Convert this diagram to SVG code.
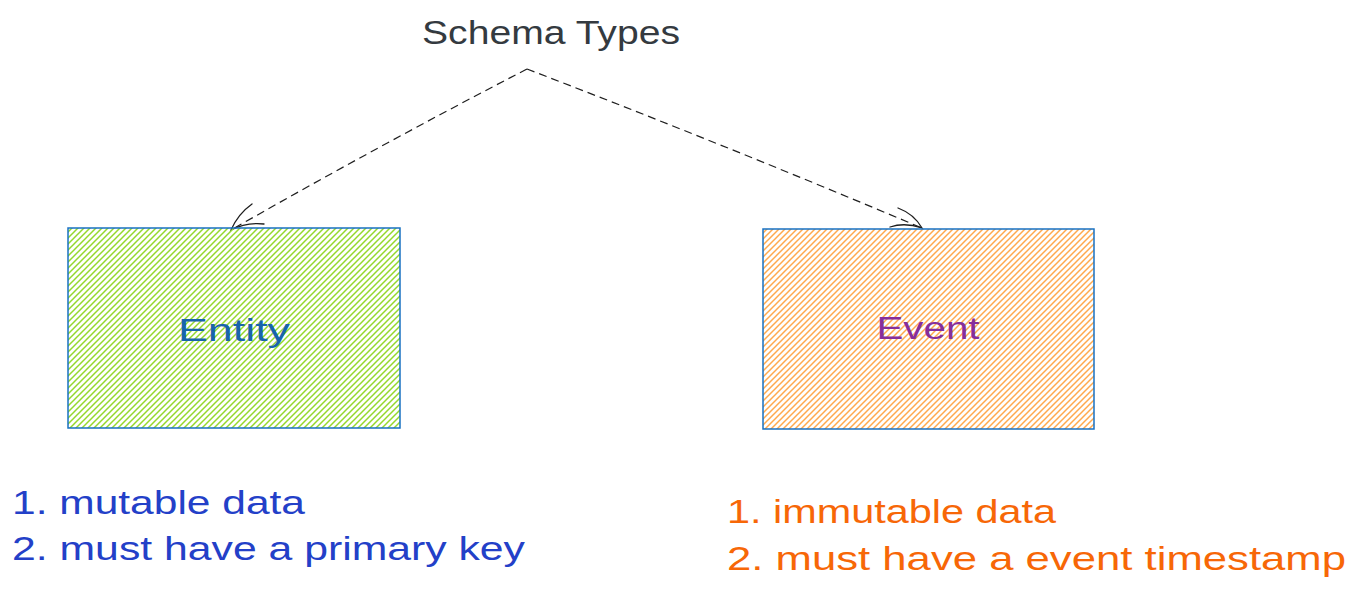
<svg xmlns="http://www.w3.org/2000/svg" width="1358" height="595" viewBox="0 0 1358 595">
  <style>
    text { font-family: "Liberation Sans", "Noto Sans", sans-serif; }
    .title { font-size: 33px; fill: #343a40; }
    .label { font-size: 31px; }
    .note { font-size: 34px; }
    .box { stroke: #1971c2; stroke-width: 1.5; }
    .conn { fill: none; stroke: #1e1e1e; stroke-width: 1.2; stroke-dasharray: 8 5; }
    .head { fill: none; stroke: #1e1e1e; stroke-width: 1.3; stroke-linecap: round; }
    .hatch { stroke-width: 1.5; fill: none; }
  </style>
  <defs>
    <pattern id="hatchGreen" patternUnits="userSpaceOnUse" width="6" height="6">
      <path class="hatch" stroke="#94d82d" d="M-1,1 L1,-1 M0,6 L6,0 M5,7 L7,5"/>
    </pattern>
    <pattern id="hatchOrange" patternUnits="userSpaceOnUse" width="6" height="6">
      <path class="hatch" stroke="#ffa94d" d="M-1,1 L1,-1 M0,6 L6,0 M5,7 L7,5"/>
    </pattern>
  </defs>
  <rect width="1358" height="595" fill="#ffffff"/>

  <g id="title">
    <text class="title" x="551" y="44" text-anchor="middle" textLength="258" lengthAdjust="spacingAndGlyphs">Schema Types</text>
  </g>

  <g id="connectors">
    <path class="conn" d="M527,69 Q380,145 231,230"/>
    <path class="head" d="M252,204 Q238,214 231,230 Q246,222 264,224"/>
    <path class="conn" d="M527,69 Q725,145 922,228"/>
    <path class="head" d="M898,208 Q914,214 922,228 Q905,222 890,227"/>
  </g>

  <g id="entity">
    <rect class="box" x="68" y="228" width="332" height="200" fill="url(#hatchGreen)"/>
    <text class="label" x="234" y="341" text-anchor="middle" fill="#1864ab" textLength="112" lengthAdjust="spacingAndGlyphs">Entity</text>
  </g>

  <g id="event">
    <rect class="box" x="763" y="229" width="331" height="200" fill="url(#hatchOrange)"/>
    <text class="label" x="928" y="339" text-anchor="middle" fill="#862e9c" textLength="103" lengthAdjust="spacingAndGlyphs">Event</text>
  </g>

  <g id="entity-notes" fill="#2340c8">
    <text class="note" x="12" y="514" textLength="293" lengthAdjust="spacingAndGlyphs">1. mutable data</text>
    <text class="note" x="12" y="560" textLength="513" lengthAdjust="spacingAndGlyphs">2. must have a primary key</text>
  </g>

  <g id="event-notes" fill="#f76707">
    <text class="note" x="727" y="523" textLength="329" lengthAdjust="spacingAndGlyphs">1. immutable data</text>
    <text class="note" x="727" y="570" textLength="619" lengthAdjust="spacingAndGlyphs">2. must have a event timestamp</text>
  </g>
</svg>
